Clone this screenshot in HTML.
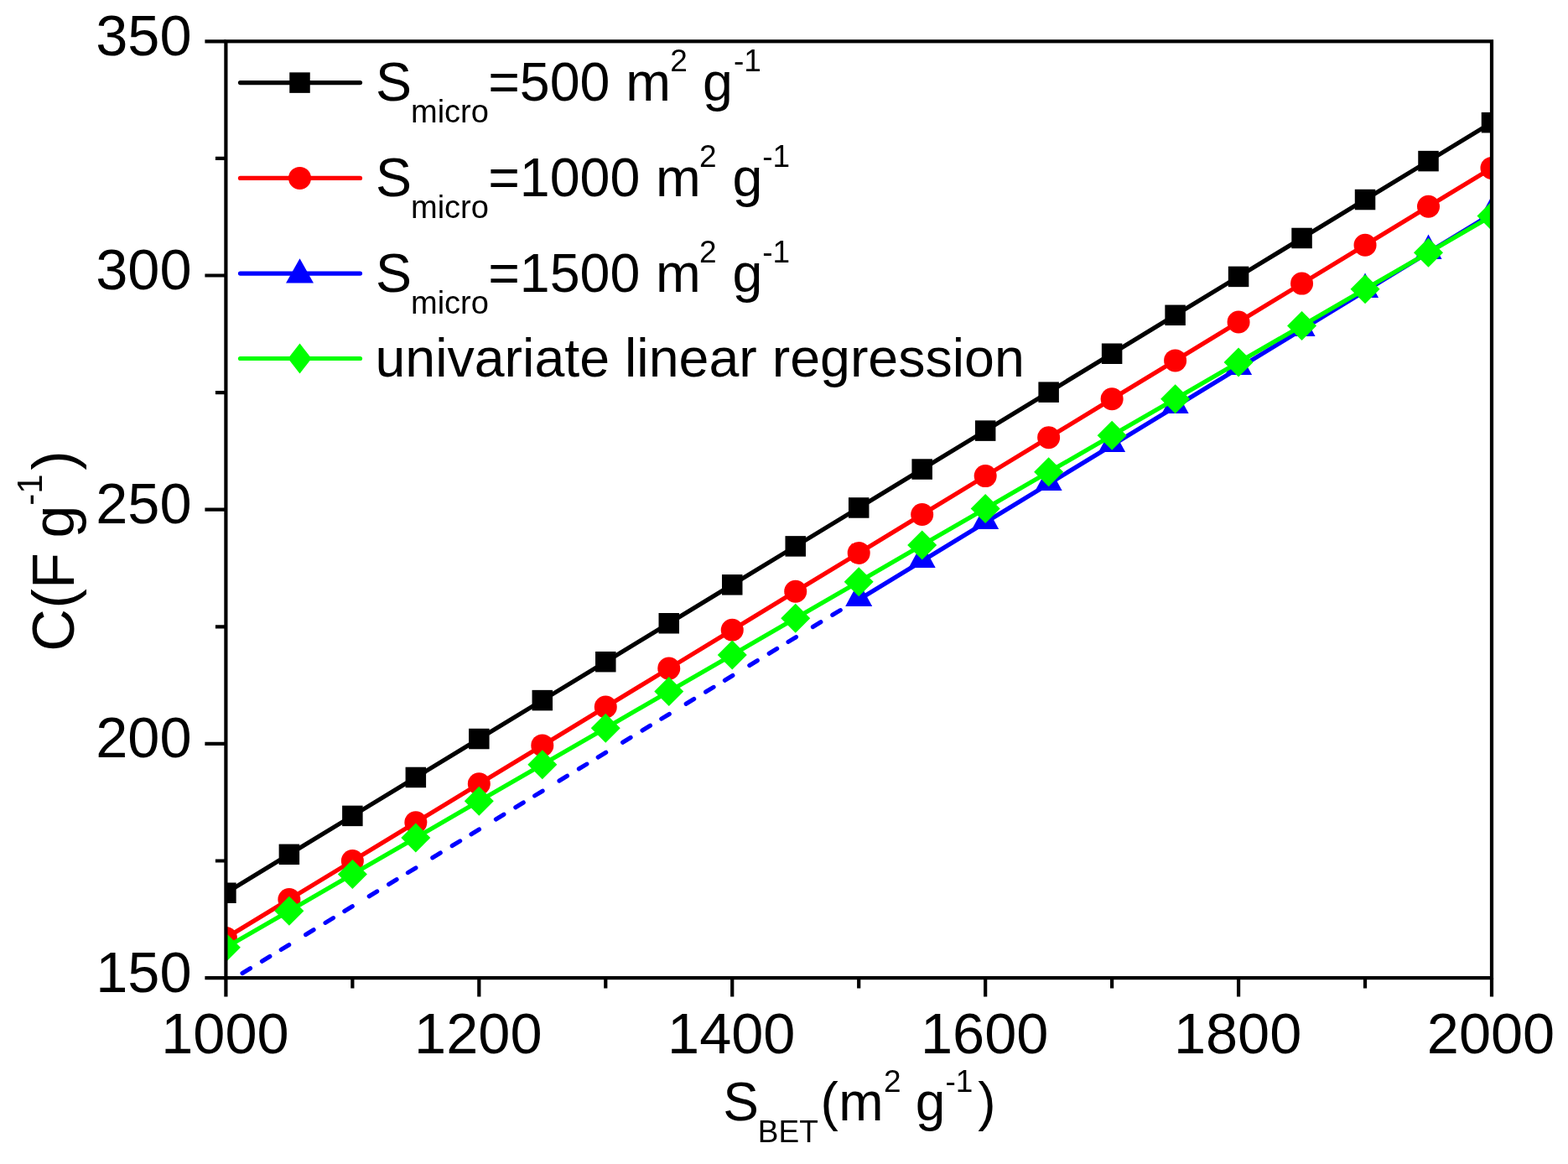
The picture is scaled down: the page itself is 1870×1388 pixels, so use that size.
<!DOCTYPE html>
<html><head><meta charset="utf-8"><style>html,body{margin:0;padding:0;background:#fff;overflow:hidden;}svg{display:block;}</style></head><body>
<svg width="1870" height="1388" viewBox="0 0 1870 1388">
<rect width="1870" height="1388" fill="#fff"/>
<defs><clipPath id="pc"><rect x="269.4" y="49.3" width="1509.6" height="1116.8"/></clipPath></defs>
<g clip-path="url(#pc)">
<path d="M269.4 1064.75 L344.88 1018.82 L420.36 972.89 L495.84 926.97 L571.32 881.04 L646.8 835.11 L722.28 789.18 L797.76 743.25 L873.24 697.32 L948.72 651.39 L1024.2 605.47 L1099.68 559.54 L1175.16 513.61 L1250.64 467.68 L1326.12 421.75 L1401.6 375.82 L1477.08 329.9 L1552.56 283.97 L1628.04 238.04 L1703.52 192.11 L1779 146.18" fill="none" stroke="#000" stroke-width="5.2" stroke-linejoin="round" />
<rect x="257.15" y="1052.5" width="24.5" height="24.5" fill="#000"/><rect x="332.63" y="1006.57" width="24.5" height="24.5" fill="#000"/><rect x="408.11" y="960.64" width="24.5" height="24.5" fill="#000"/><rect x="483.59" y="914.72" width="24.5" height="24.5" fill="#000"/><rect x="559.07" y="868.79" width="24.5" height="24.5" fill="#000"/><rect x="634.55" y="822.86" width="24.5" height="24.5" fill="#000"/><rect x="710.03" y="776.93" width="24.5" height="24.5" fill="#000"/><rect x="785.51" y="731" width="24.5" height="24.5" fill="#000"/><rect x="860.99" y="685.07" width="24.5" height="24.5" fill="#000"/><rect x="936.47" y="639.14" width="24.5" height="24.5" fill="#000"/><rect x="1011.95" y="593.22" width="24.5" height="24.5" fill="#000"/><rect x="1087.43" y="547.29" width="24.5" height="24.5" fill="#000"/><rect x="1162.91" y="501.36" width="24.5" height="24.5" fill="#000"/><rect x="1238.39" y="455.43" width="24.5" height="24.5" fill="#000"/><rect x="1313.87" y="409.5" width="24.5" height="24.5" fill="#000"/><rect x="1389.35" y="363.57" width="24.5" height="24.5" fill="#000"/><rect x="1464.83" y="317.65" width="24.5" height="24.5" fill="#000"/><rect x="1540.31" y="271.72" width="24.5" height="24.5" fill="#000"/><rect x="1615.79" y="225.79" width="24.5" height="24.5" fill="#000"/><rect x="1691.27" y="179.86" width="24.5" height="24.5" fill="#000"/><rect x="1766.75" y="133.93" width="24.5" height="24.5" fill="#000"/>
<path d="M269.4 1118.41 L344.88 1072.51 L420.36 1026.61 L495.84 980.71 L571.32 934.81 L646.8 888.91 L722.28 843.01 L797.76 797.11 L873.24 751.21 L948.72 705.31 L1024.2 659.41 L1099.68 613.51 L1175.16 567.61 L1250.64 521.71 L1326.12 475.81 L1401.6 429.91 L1477.08 384 L1552.56 338.1 L1628.04 292.2 L1703.52 246.3 L1779 200.4" fill="none" stroke="#f00" stroke-width="5.2" stroke-linejoin="round" />
<circle cx="269.4" cy="1118.41" r="13.5" fill="#f00"/><circle cx="344.88" cy="1072.51" r="13.5" fill="#f00"/><circle cx="420.36" cy="1026.61" r="13.5" fill="#f00"/><circle cx="495.84" cy="980.71" r="13.5" fill="#f00"/><circle cx="571.32" cy="934.81" r="13.5" fill="#f00"/><circle cx="646.8" cy="888.91" r="13.5" fill="#f00"/><circle cx="722.28" cy="843.01" r="13.5" fill="#f00"/><circle cx="797.76" cy="797.11" r="13.5" fill="#f00"/><circle cx="873.24" cy="751.21" r="13.5" fill="#f00"/><circle cx="948.72" cy="705.31" r="13.5" fill="#f00"/><circle cx="1024.2" cy="659.41" r="13.5" fill="#f00"/><circle cx="1099.68" cy="613.51" r="13.5" fill="#f00"/><circle cx="1175.16" cy="567.61" r="13.5" fill="#f00"/><circle cx="1250.64" cy="521.71" r="13.5" fill="#f00"/><circle cx="1326.12" cy="475.81" r="13.5" fill="#f00"/><circle cx="1401.6" cy="429.91" r="13.5" fill="#f00"/><circle cx="1477.08" cy="384" r="13.5" fill="#f00"/><circle cx="1552.56" cy="338.1" r="13.5" fill="#f00"/><circle cx="1628.04" cy="292.2" r="13.5" fill="#f00"/><circle cx="1703.52" cy="246.3" r="13.5" fill="#f00"/><circle cx="1779" cy="200.4" r="13.5" fill="#f00"/>
<path d="M269.4 1172.35 L1024.2 714.3" fill="none" stroke="#00f" stroke-width="5.2" stroke-linejoin="round" stroke-dasharray="11 16.37 11 15.67 11 23.39" stroke-dashoffset="65.45" stroke-linecap="round"/>
<path d="M1024.2 714.91 L1099.68 668.93 L1175.16 622.94 L1250.64 576.96 L1326.12 530.98 L1401.6 484.99 L1477.08 439.01 L1552.56 393.02 L1628.04 347.04 L1703.52 301.05 L1779 255.07" fill="none" stroke="#00f" stroke-width="5.2" stroke-linejoin="round" />
<path d="M1024.2 693.41L1040.2 722.91L1008.2 722.91Z" fill="#00f"/><path d="M1099.68 647.43L1115.68 676.93L1083.68 676.93Z" fill="#00f"/><path d="M1175.16 601.44L1191.16 630.94L1159.16 630.94Z" fill="#00f"/><path d="M1250.64 555.46L1266.64 584.96L1234.64 584.96Z" fill="#00f"/><path d="M1326.12 509.48L1342.12 538.98L1310.12 538.98Z" fill="#00f"/><path d="M1401.6 463.49L1417.6 492.99L1385.6 492.99Z" fill="#00f"/><path d="M1477.08 417.51L1493.08 447.01L1461.08 447.01Z" fill="#00f"/><path d="M1552.56 371.52L1568.56 401.02L1536.56 401.02Z" fill="#00f"/><path d="M1628.04 325.54L1644.04 355.04L1612.04 355.04Z" fill="#00f"/><path d="M1703.52 279.55L1719.52 309.05L1687.52 309.05Z" fill="#00f"/><path d="M1779 233.57L1795 263.07L1763 263.07Z" fill="#00f"/>
<path d="M269.4 1129.8 L344.88 1086.19 L420.36 1042.58 L495.84 998.97 L571.32 955.36 L646.8 911.75 L722.28 868.14 L797.76 824.53 L873.24 780.92 L948.72 737.3 L1024.2 693.69 L1099.68 650.08 L1175.16 606.47 L1250.64 562.86 L1326.12 519.25 L1401.6 475.64 L1477.08 432.03 L1552.56 388.42 L1628.04 344.81 L1703.52 301.19 L1779 257.58" fill="none" stroke="#0f0" stroke-width="5.2" stroke-linejoin="round" />
<path d="M269.4 1112.3L286.9 1129.8L269.4 1147.3L251.9 1129.8Z" fill="#0f0"/><path d="M344.88 1068.69L362.38 1086.19L344.88 1103.69L327.38 1086.19Z" fill="#0f0"/><path d="M420.36 1025.08L437.86 1042.58L420.36 1060.08L402.86 1042.58Z" fill="#0f0"/><path d="M495.84 981.47L513.34 998.97L495.84 1016.47L478.34 998.97Z" fill="#0f0"/><path d="M571.32 937.86L588.82 955.36L571.32 972.86L553.82 955.36Z" fill="#0f0"/><path d="M646.8 894.25L664.3 911.75L646.8 929.25L629.3 911.75Z" fill="#0f0"/><path d="M722.28 850.64L739.78 868.14L722.28 885.64L704.78 868.14Z" fill="#0f0"/><path d="M797.76 807.03L815.26 824.53L797.76 842.03L780.26 824.53Z" fill="#0f0"/><path d="M873.24 763.42L890.74 780.92L873.24 798.42L855.74 780.92Z" fill="#0f0"/><path d="M948.72 719.8L966.22 737.3L948.72 754.8L931.22 737.3Z" fill="#0f0"/><path d="M1024.2 676.19L1041.7 693.69L1024.2 711.19L1006.7 693.69Z" fill="#0f0"/><path d="M1099.68 632.58L1117.18 650.08L1099.68 667.58L1082.18 650.08Z" fill="#0f0"/><path d="M1175.16 588.97L1192.66 606.47L1175.16 623.97L1157.66 606.47Z" fill="#0f0"/><path d="M1250.64 545.36L1268.14 562.86L1250.64 580.36L1233.14 562.86Z" fill="#0f0"/><path d="M1326.12 501.75L1343.62 519.25L1326.12 536.75L1308.62 519.25Z" fill="#0f0"/><path d="M1401.6 458.14L1419.1 475.64L1401.6 493.14L1384.1 475.64Z" fill="#0f0"/><path d="M1477.08 414.53L1494.58 432.03L1477.08 449.53L1459.58 432.03Z" fill="#0f0"/><path d="M1552.56 370.92L1570.06 388.42L1552.56 405.92L1535.06 388.42Z" fill="#0f0"/><path d="M1628.04 327.31L1645.54 344.81L1628.04 362.31L1610.54 344.81Z" fill="#0f0"/><path d="M1703.52 283.69L1721.02 301.19L1703.52 318.69L1686.02 301.19Z" fill="#0f0"/><path d="M1779 240.08L1796.5 257.58L1779 275.08L1761.5 257.58Z" fill="#0f0"/>
</g>
<rect x="269.4" y="49.3" width="1509.6" height="1116.8" fill="none" stroke="#000" stroke-width="4.2"/>
<path d="M269.4 1166.1H244.4M269.4 1026.5H256.9M269.4 886.9H244.4M269.4 747.3H256.9M269.4 607.7H244.4M269.4 468.1H256.9M269.4 328.5H244.4M269.4 188.9H256.9M269.4 49.3H244.4M269.4 1166.1V1188.6M420.36 1166.1V1178.5M571.32 1166.1V1188.6M722.28 1166.1V1178.5M873.24 1166.1V1188.6M1024.2 1166.1V1178.5M1175.16 1166.1V1188.6M1326.12 1166.1V1178.5M1477.08 1166.1V1188.6M1628.04 1166.1V1178.5M1779 1166.1V1188.6" stroke="#000" stroke-width="4.2" fill="none"/>
<g font-family='"Liberation Sans", Arial, sans-serif' font-size="68.5" fill="#000">
<text x="228.5" y="1182.6" text-anchor="end">150</text>
<text x="228.5" y="903.4" text-anchor="end">200</text>
<text x="228.5" y="624.2" text-anchor="end">250</text>
<text x="228.5" y="345" text-anchor="end">300</text>
<text x="228.5" y="65.8" text-anchor="end">350</text>
<text x="268.4" y="1255.6" text-anchor="middle">1000</text>
<text x="570.32" y="1255.6" text-anchor="middle">1200</text>
<text x="872.24" y="1255.6" text-anchor="middle">1400</text>
<text x="1174.16" y="1255.6" text-anchor="middle">1600</text>
<text x="1476.08" y="1255.6" text-anchor="middle">1800</text>
<text x="1778" y="1255.6" text-anchor="middle">2000</text>
</g>
<g font-family='"Liberation Sans", Arial, sans-serif' fill="#000">
<path d="M286.5 98.6H429.5" stroke="#000" stroke-width="5.2" stroke-linecap="round"/>
<rect x="345.25" y="86.35" width="24.5" height="24.5" fill="#000"/>
<text y="120" font-size="64.5"><tspan x="447.9">S</tspan><tspan x="490.0" y="145.6" font-size="38">micro</tspan><tspan x="582.2" y="120">=500</tspan><tspan x="746.2">m</tspan><tspan x="799.3" y="85.3" font-size="37">2</tspan><tspan x="838.1" y="120">g</tspan><tspan x="875.0" y="85.3" font-size="37">-1</tspan></text>
<path d="M286.5 212.4H429.5" stroke="#f00" stroke-width="5.2" stroke-linecap="round"/>
<circle cx="357.5" cy="212.4" r="13.5" fill="#f00"/>
<text y="234" font-size="64.5"><tspan x="447.9">S</tspan><tspan x="490.0" y="259.6" font-size="38">micro</tspan><tspan x="582.2" y="234">=1000</tspan><tspan x="782.1">m</tspan><tspan x="834.0" y="199.3" font-size="37">2</tspan><tspan x="873.6" y="234">g</tspan><tspan x="909.3" y="199.3" font-size="37">-1</tspan></text>
<path d="M286.5 326.1H429.5" stroke="#00f" stroke-width="5.2" stroke-linecap="round"/>
<path d="M357.5 308.3L374 337.5L341 337.5Z" fill="#00f"/>
<text y="348" font-size="64.5"><tspan x="447.9">S</tspan><tspan x="490.0" y="373.6" font-size="38">micro</tspan><tspan x="582.2" y="348">=1500</tspan><tspan x="782.1">m</tspan><tspan x="834.0" y="313.3" font-size="37">2</tspan><tspan x="873.6" y="348">g</tspan><tspan x="909.3" y="313.3" font-size="37">-1</tspan></text>
<path d="M286.5 427.5H429.5" stroke="#0f0" stroke-width="5.2" stroke-linecap="round"/>
<path d="M357.5 409.5L371.5 427.5L357.5 445.5L343.5 427.5Z" fill="#0f0"/>
<text x="447.4" y="448.8" font-size="64.5">univariate linear regression</text>
</g>
<text y="1335.5" font-family='"Liberation Sans", Arial, sans-serif' font-size="64"><tspan x="862.3">S</tspan><tspan x="903.8" y="1361.5" font-size="37">BET</tspan><tspan x="978.6" y="1335.5">(</tspan><tspan x="1000.3">m</tspan><tspan x="1054" y="1301.5" font-size="37">2</tspan><tspan x="1091.8" y="1335.5">g</tspan><tspan x="1127.5" y="1301.5" font-size="37">-1</tspan><tspan x="1166.3" y="1335.5">)</tspan></text>
<text transform="translate(88.3 777) rotate(-90)" y="0" font-family='"Liberation Sans", Arial, sans-serif' font-size="70"><tspan x="0.3">C</tspan><tspan x="51.4">(</tspan><tspan x="75">F</tspan><tspan x="135.4">g</tspan><tspan x="174.3" y="-38.5" font-size="42">-1</tspan><tspan x="216.2" y="0">)</tspan></text>
</svg>
</body></html>
